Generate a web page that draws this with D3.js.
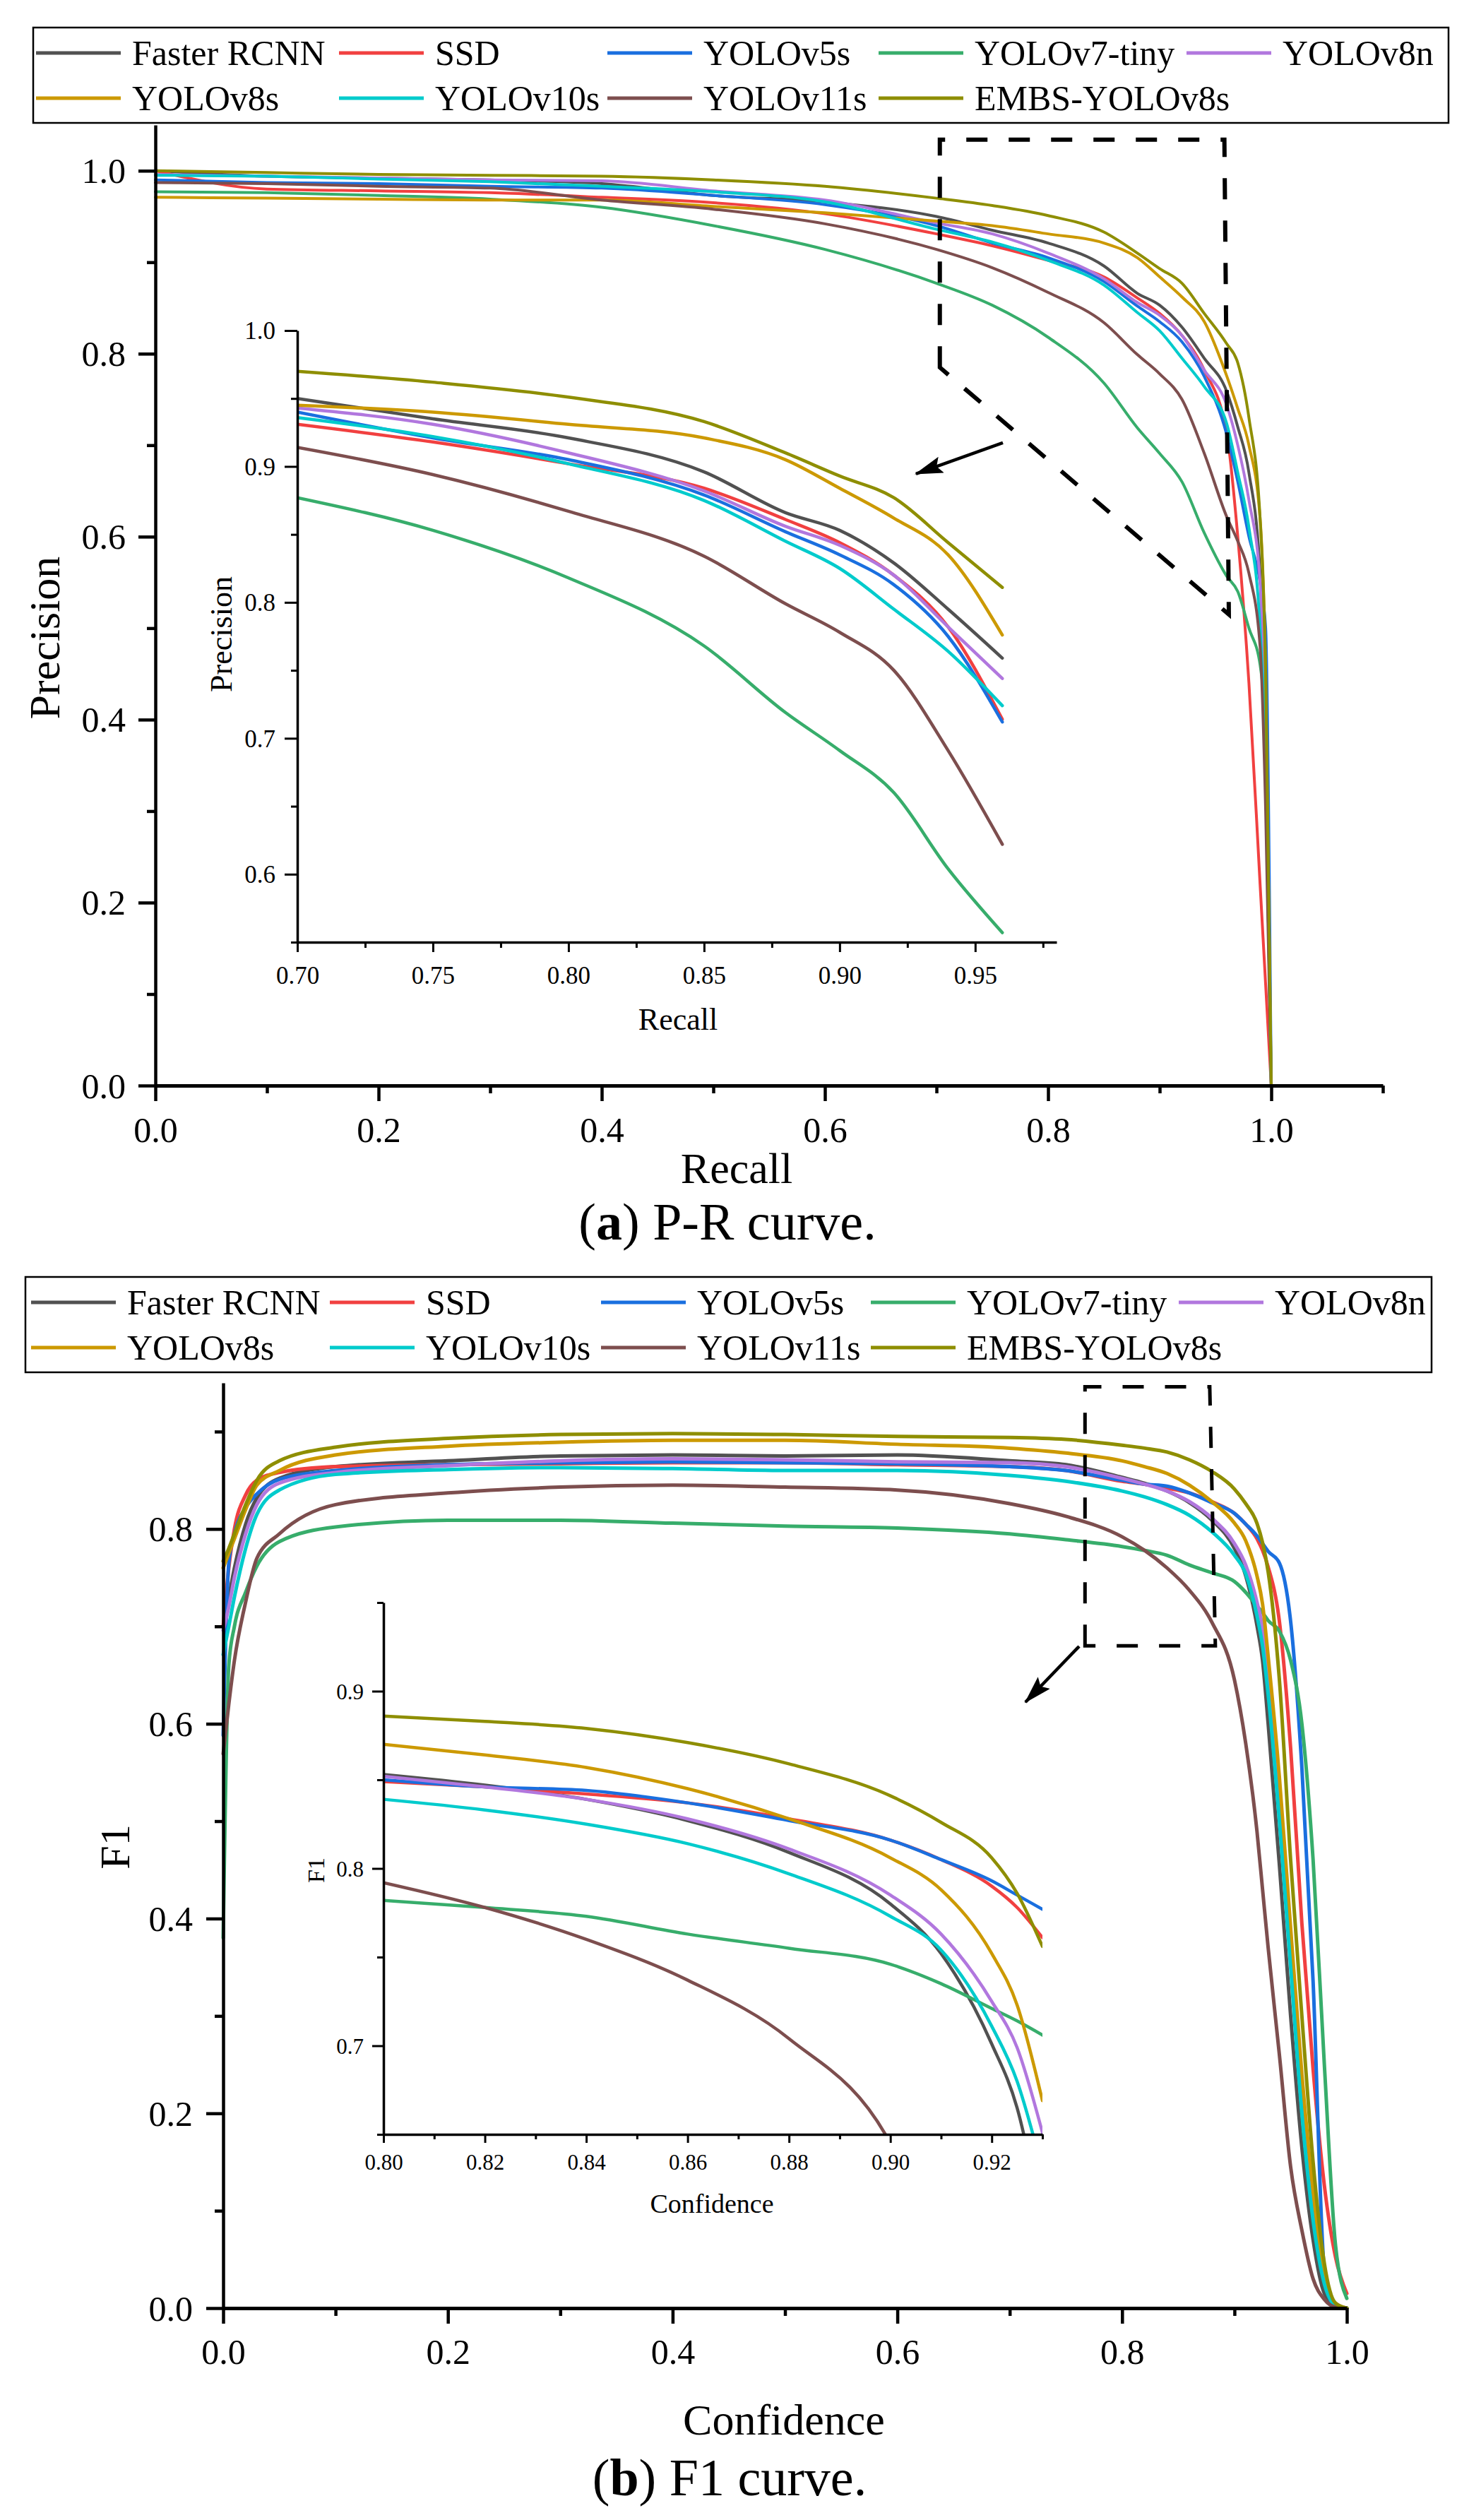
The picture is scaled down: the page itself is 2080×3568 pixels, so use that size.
<!DOCTYPE html>
<html><head><meta charset="utf-8">
<script src="https://cdn.jsdelivr.net/npm/d3@7"></script>
<style>body{margin:0;background:#fff}svg{display:block}</style>
</head><body>
<svg id="c" width="2080" height="3568"></svg>
<script>
// ---------- data ----------
const seriesNames = ["Faster RCNN","SSD","YOLOv5s","YOLOv7-tiny","YOLOv8n","YOLOv8s","YOLOv10s","YOLOv11s","EMBS-YOLOv8s"];
const seriesColors = ["#515151","#F14040","#1A6FDF","#37AD6B","#B177DE","#CC9900","#00CBCC","#7D4E4E","#8E8E00"];

const prRecall = [0,0.1,0.2,0.3,0.4,0.5,0.6,0.7,0.75,0.8,0.85,0.88,0.9,0.92,0.94,0.96,0.97,0.98,0.99,0.995,1.0];
const prFasterRCNN = [1.000,0.994,0.992,0.990,0.986,0.973,0.966,0.950,0.935,0.921,0.896,0.866,0.853,0.829,0.795,0.759,0.720,0.670,0.560,0.350,0];
const prSSD        = [1.000,0.980,0.978,0.976,0.971,0.965,0.953,0.931,0.918,0.902,0.884,0.861,0.844,0.820,0.782,0.714,0.600,0.440,0.220,0.110,0];
const prYOLOv5s    = [0.990,0.987,0.986,0.983,0.981,0.973,0.963,0.940,0.921,0.905,0.879,0.852,0.835,0.813,0.775,0.712,0.660,0.600,0.550,0.500,0];
const prYOLOv7tiny = [0.977,0.976,0.973,0.969,0.960,0.940,0.914,0.877,0.853,0.818,0.768,0.719,0.691,0.660,0.604,0.557,0.540,0.500,0.460,0.380,0];
const prYOLOv8n    = [0.996,0.994,0.992,0.990,0.989,0.978,0.968,0.943,0.931,0.910,0.882,0.856,0.842,0.820,0.782,0.744,0.700,0.640,0.550,0.350,0];
const prYOLOv8s    = [0.971,0.970,0.969,0.968,0.968,0.961,0.954,0.945,0.940,0.931,0.921,0.905,0.884,0.862,0.835,0.776,0.740,0.700,0.620,0.450,0];
const prYOLOv10s   = [0.995,0.994,0.991,0.988,0.983,0.977,0.966,0.936,0.922,0.902,0.875,0.845,0.825,0.795,0.764,0.724,0.670,0.610,0.500,0.350,0];
const prYOLOv11s   = [0.987,0.986,0.983,0.981,0.968,0.958,0.942,0.914,0.894,0.867,0.834,0.799,0.778,0.750,0.691,0.622,0.595,0.560,0.480,0.300,0];
const prEMBS       = [1.000,0.998,0.996,0.995,0.994,0.990,0.983,0.970,0.962,0.951,0.933,0.910,0.893,0.877,0.844,0.811,0.790,0.730,0.620,0.450,0];

const f1Conf = [0,0.005,0.01,0.02,0.03,0.05,0.1,0.2,0.3,0.4,0.5,0.6,0.7,0.75,0.8,0.82,0.84,0.86,0.88,0.9,0.91,0.92,0.925,0.93,0.94,0.95,0.96,0.97,0.98,0.99,1.0];
const f1FasterRCNN = [0.700,0.730,0.760,0.805,0.832,0.852,0.864,0.870,0.875,0.876,0.875,0.876,0.870,0.866,0.853,0.847,0.839,0.827,0.809,0.780,0.752,0.701,0.665,0.600,0.455,0.300,0.165,0.070,0.015,0.002,0];
const f1SSD        = [0.700,0.760,0.800,0.835,0.850,0.858,0.864,0.866,0.867,0.868,0.868,0.866,0.864,0.860,0.849,0.846,0.842,0.837,0.828,0.816,0.805,0.790,0.778,0.761,0.705,0.575,0.395,0.245,0.126,0.052,0.015];
const f1YOLOv5s    = [0.588,0.765,0.795,0.822,0.836,0.851,0.860,0.866,0.868,0.869,0.868,0.867,0.864,0.860,0.850,0.846,0.844,0.837,0.827,0.816,0.805,0.793,0.785,0.777,0.765,0.705,0.555,0.335,0.040,0,0];
const f1YOLOv7tiny = [0.380,0.660,0.700,0.735,0.762,0.787,0.802,0.809,0.809,0.806,0.803,0.801,0.795,0.789,0.782,0.778,0.773,0.763,0.755,0.746,0.735,0.721,0.714,0.706,0.695,0.665,0.600,0.460,0.250,0.064,0.010];
const f1YOLOv8n    = [0.696,0.720,0.750,0.795,0.825,0.847,0.858,0.865,0.870,0.872,0.871,0.869,0.868,0.864,0.852,0.846,0.839,0.828,0.811,0.785,0.763,0.725,0.699,0.651,0.530,0.370,0.220,0.100,0.030,0.005,0];
const f1YOLOv8s    = [0.760,0.775,0.790,0.820,0.845,0.860,0.876,0.885,0.889,0.891,0.891,0.887,0.883,0.878,0.870,0.864,0.857,0.845,0.828,0.806,0.788,0.752,0.723,0.669,0.545,0.390,0.240,0.120,0.033,0.005,0];
const f1YOLOv10s   = [0.671,0.700,0.730,0.780,0.815,0.840,0.856,0.861,0.863,0.862,0.860,0.860,0.855,0.849,0.839,0.833,0.825,0.814,0.797,0.773,0.754,0.711,0.680,0.630,0.500,0.350,0.200,0.090,0.025,0.003,0];
const f1YOLOv11s   = [0.569,0.620,0.665,0.725,0.770,0.795,0.825,0.837,0.843,0.845,0.843,0.840,0.826,0.813,0.792,0.778,0.760,0.737,0.704,0.645,0.580,0.490,0.430,0.370,0.260,0.145,0.080,0.030,0.009,0.001,0];
const f1EMBS       = [0.767,0.780,0.795,0.825,0.850,0.870,0.884,0.893,0.897,0.898,0.897,0.895,0.894,0.892,0.886,0.883,0.879,0.871,0.859,0.841,0.826,0.806,0.786,0.756,0.645,0.460,0.300,0.150,0.046,0.005,0];

const prSeries = [prFasterRCNN,prSSD,prYOLOv5s,prYOLOv7tiny,prYOLOv8n,prYOLOv8s,prYOLOv10s,prYOLOv11s,prEMBS];
const f1Series = [f1FasterRCNN,f1SSD,f1YOLOv5s,f1YOLOv7tiny,f1YOLOv8n,f1YOLOv8s,f1YOLOv10s,f1YOLOv11s,f1EMBS];

// tick values
const mainMajor = [0,0.2,0.4,0.6,0.8,1.0];
const mainMinorX = [0.1,0.3,0.5,0.7,0.9,1.1];
const mainMinorY = [0.1,0.3,0.5,0.7,0.9];
const prInsetXMajor = [0.70,0.75,0.80,0.85,0.90,0.95];
const prInsetXMinor = [0.725,0.775,0.825,0.875,0.925,0.975];
const prInsetYMajor = [0.6,0.7,0.8,0.9,1.0];
const prInsetYMinor = [0.55,0.65,0.75,0.85,0.95];
const f1YMajor = [0,0.2,0.4,0.6,0.8];
const f1YMinor = [0.1,0.3,0.5,0.7,0.9];
const f1XMinor = [0.1,0.3,0.5,0.7,0.9];
const f1InsetXMajor = [0.80,0.82,0.84,0.86,0.88,0.90,0.92];
const f1InsetXMinor = [0.81,0.83,0.85,0.87,0.89,0.91,0.93];
const f1InsetYMajor = [0.7,0.8,0.9];
const f1InsetYMinor = [0.65,0.75,0.85,0.95];

// zoom-box outlines & arrows (data coordinates of the host axes)
const prZoomBox = [[0.703,0.785],[0.703,1.034],[0.958,1.034],[0.962,0.515]];
const prArrow = [[0.7595,0.7027],[0.6816,0.6687]];
const f1ZoomBox = [[0.767,0.680],[0.767,0.946],[0.878,0.946],[0.883,0.680]];
const f1Arrow = [[0.7618,0.6795],[0.714,0.6222]];

// ---------- drawing ----------
const FONT = "'Liberation Serif','Times New Roman',Times,serif";
const svg = d3.select("#c");
svg.append("rect").attr("width",2080).attr("height",3568).attr("fill","#fff");

const defs = svg.append("defs");
defs.append("marker").attr("id","arr").attr("markerUnits","userSpaceOnUse")
  .attr("viewBox","0 0 40 24").attr("markerWidth",40).attr("markerHeight",24)
  .attr("refX",38).attr("refY",12).attr("orient","auto")
  .append("path").attr("d","M0,0 L40,12 L0,24 L7,12 Z").attr("fill","#000");

function addAxis(x0, y0, scale, orient, major, minor, o) {
  const mk = orient === "left" ? d3.axisLeft : d3.axisBottom;
  const g = svg.append("g").attr("transform", orient === "left" ? `translate(${x0},0)` : `translate(0,${y0})`);
  const gMin = g.append("g").call(mk(scale).tickValues(minor).tickSize(o.minLen).tickSizeOuter(0).tickFormat(""));
  const gMaj = g.append("g").call(mk(scale).tickValues(major).tickSize(o.majLen).tickSizeOuter(0).tickFormat(d3.format(o.fmt)));
  gMin.select(".domain").remove();
  [gMin, gMaj].forEach(s => {
    s.attr("font-size", null).attr("font-family", null);
    s.selectAll(".tick line").attr("stroke","#000").attr("stroke-width", o.tickW);
  });
  gMaj.select(".domain").attr("stroke","#000").attr("stroke-width", o.lineW);
  const t = gMaj.selectAll(".tick text").attr("fill","#000").attr("font-family",FONT).attr("font-size",o.font);
  if (orient === "left") t.attr("x", -o.lab).attr("dy","0.34em");
  else t.attr("y", o.lab).attr("dy", null);
}

function drawLines(series, xs, xS, yS, filt, width, clipId) {
  const g = svg.append("g");
  if (clipId) g.attr("clip-path", `url(#${clipId})`);
  const line = d3.line().x(d => xS(d[0])).y(d => yS(d[1])).curve(d3.curveMonotoneX);
  series.forEach((vals, i) => {
    const pts = xs.map((x, j) => [x, vals[j]]).filter(p => filt(p[0]));
    g.append("path").attr("d", line(pts)).attr("fill","none")
      .attr("stroke", seriesColors[i]).attr("stroke-width", width)
      .attr("stroke-linejoin","round").attr("stroke-linecap","round");
  });
}

function legend(box, rowsY, colsX) {
  svg.append("rect").attr("x",box.x).attr("y",box.y).attr("width",box.w).attr("height",box.h)
    .attr("fill","#fff").attr("stroke","#000").attr("stroke-width",2.5);
  seriesNames.forEach((n, i) => {
    const r = Math.floor(i / 5), c = i % 5;
    const x = colsX[c], y = rowsY[r];
    svg.append("line").attr("x1",x).attr("x2",x+120).attr("y1",y).attr("y2",y)
      .attr("stroke",seriesColors[i]).attr("stroke-width",5);
    svg.append("text").attr("x",x+136).attr("y",y+17).attr("font-family",FONT)
      .attr("font-size",50).attr("fill","#000").text(n);
  });
}

function zoomBox(pts, xS, yS, w) {
  const p = d3.line().x(d => xS(d[0])).y(d => yS(d[1]));
  svg.append("path").attr("d", p(pts) + "Z").attr("fill","none").attr("stroke","#000")
    .attr("stroke-width", w).attr("stroke-dasharray","30,30");
}
function arrow(a, xS, yS) {
  svg.append("line").attr("x1",xS(a[0][0])).attr("y1",yS(a[0][1]))
    .attr("x2",xS(a[1][0])).attr("y2",yS(a[1][1]))
    .attr("stroke","#000").attr("stroke-width",4.5).attr("marker-end","url(#arr)");
}
function text(x, y, s, size, opts = {}) {
  const t = svg.append("text").attr("font-family",FONT).attr("font-size",size).attr("fill","#000")
    .attr("text-anchor","middle");
  if (opts.rot) t.attr("transform",`translate(${x},${y}) rotate(-90)`);
  else t.attr("x",x).attr("y",y);
  t.text(s);
  return t;
}

// ===== (a) P-R =====
const xPR = d3.scaleLinear().domain([0,1.1]).range([220,1958]);
const yPR = d3.scaleLinear().domain([0,1.05]).range([1537,177]);
drawLines(prSeries, prRecall, xPR, yPR, () => true, 4, null);
addAxis(220, 0, yPR, "left", mainMajor, mainMinorY, {majLen:24,minLen:12,tickW:4.5,lineW:4.5,fmt:".1f",font:50,lab:42});
addAxis(0, 1537, xPR, "bottom", mainMajor, mainMinorX, {majLen:22,minLen:11,tickW:4.5,lineW:5,fmt:".1f",font:50,lab:80});
text(1043, 1675, "Recall", 62);
text(84, 903, "Precision", 62, {rot:true});

// inset
const xPRi = d3.scaleLinear().domain([0.70,0.98]).range([421,1496]);
const yPRi = d3.scaleLinear().domain([0.55,1.0]).range([1334,468]);
defs.append("clipPath").attr("id","clipA").append("rect").attr("x",421).attr("y",468).attr("width",1075).attr("height",866);
drawLines(prSeries, prRecall, xPRi, yPRi, r => r >= 0.70 && r <= 0.96, 4.5, "clipA");
addAxis(421, 0, yPRi, "left", prInsetYMajor, prInsetYMinor, {majLen:18,minLen:9,tickW:3,lineW:3.5,fmt:".1f",font:35,lab:31});
addAxis(0, 1334, xPRi, "bottom", prInsetXMajor, prInsetXMinor, {majLen:14,minLen:8,tickW:3,lineW:3.5,fmt:".2f",font:35,lab:59});
text(960, 1458, "Recall", 44);
text(328, 898, "Precision", 44, {rot:true});

zoomBox(prZoomBox, xPR, yPR, 6);
arrow(prArrow, xPR, yPR);
legend({x:47,y:39,w:2004,h:135}, [75,139], [51,480,860,1244,1680]);

const capA = svg.append("text").attr("x",1030).attr("y",1755).attr("font-family",FONT).attr("font-size",74)
  .attr("text-anchor","middle").attr("fill","#000");
capA.append("tspan").text("(");
capA.append("tspan").attr("font-weight","bold").text("a");
capA.append("tspan").text(") P-R curve.");

// ===== (b) F1 =====
const xF = d3.scaleLinear().domain([0,1]).range([316,1907]);
const yF = d3.scaleLinear().domain([0,0.95]).range([3268,1958]);
drawLines(f1Series, f1Conf, xF, yF, () => true, 5, null);
addAxis(316, 0, yF, "left", f1YMajor, f1YMinor, {majLen:24,minLen:12,tickW:4.5,lineW:4.5,fmt:".1f",font:50,lab:43});
addAxis(0, 3268, xF, "bottom", mainMajor, f1XMinor, {majLen:22,minLen:11,tickW:4.5,lineW:5,fmt:".1f",font:50,lab:79});
text(1110, 3447, "Confidence", 62);
text(183, 2615, "F1", 60, {rot:true});

const xFi = d3.scaleLinear().domain([0.80,0.93]).range([543,1476]);
const yFi = d3.scaleLinear().domain([0.65,0.95]).range([3022,2269]);
defs.append("clipPath").attr("id","clipB").append("rect").attr("x",543).attr("y",2269).attr("width",933).attr("height",753);
drawLines(f1Series, f1Conf, xFi, yFi, c => c >= 0.80 && c <= 0.93, 4.5, "clipB");
addAxis(543, 0, yFi, "left", f1InsetYMajor, f1InsetYMinor, {majLen:16,minLen:9,tickW:3,lineW:3.5,fmt:".1f",font:31,lab:28});
addAxis(0, 3022, xFi, "bottom", f1InsetXMajor, f1InsetXMinor, {majLen:12,minLen:7,tickW:3,lineW:3.5,fmt:".2f",font:31,lab:50});
text(1008, 3133, "Confidence", 38);
text(459, 2648, "F1", 34, {rot:true});

zoomBox(f1ZoomBox, xF, yF, 5);
arrow(f1Arrow, xF, yF);
legend({x:36,y:1808,w:1991,h:135}, [1844,1908], [44,467,851,1233,1669]);

const capB = svg.append("text").attr("x",1033).attr("y",3533).attr("font-family",FONT).attr("font-size",74)
  .attr("text-anchor","middle").attr("fill","#000");
capB.append("tspan").text("(");
capB.append("tspan").attr("font-weight","bold").text("b");
capB.append("tspan").text(") F1 curve.");
</script>
</body></html>
